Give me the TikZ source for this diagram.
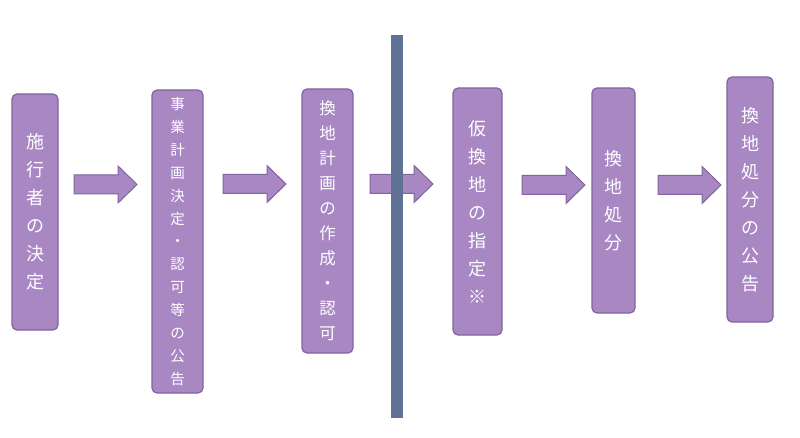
\documentclass[tikz,border=0pt]{standalone}
\usepackage{fontspec}
\setmainfont{Noto Sans CJK JP}
\definecolor{boxfill}{HTML}{A887C3}
\definecolor{boxline}{HTML}{7F64A0}
\definecolor{barcol}{HTML}{5F7194}
\tikzset{
  box/.style={draw=boxline, fill=boxfill, rounded corners=5pt, line width=1.2pt,
    text=white, align=center, inner sep=0pt},
  bigtext/.style={font=\fontsize{18}{28}\selectfont},
  midtext/.style={font=\fontsize{16.5}{25}\selectfont},
  smalltext/.style={font=\fontsize{14.5}{22.9}\selectfont},
  arrowstyle/.style={draw=boxline, fill=boxfill, line width=1pt, line join=miter},
  barrow/.pic={\draw[arrowstyle] (0,-9.5) -- (44,-9.5) -- (44,-18.5) -- (63,0) -- (44,18.5) -- (44,9.5) -- (0,9.5) -- cycle;},
  divider/.style={fill=barcol, draw=none, inner sep=0pt, minimum width=12pt, minimum height=383pt}
}
\begin{document}
\begin{tikzpicture}[x=1pt,y=-1pt]
\useasboundingbox (0,0) rectangle (800,438);
\node[box, bigtext, minimum width=46pt, minimum height=236pt] (b1) at (35,212)
  {施\\行\\者\\の\\決\\定};
\node[box, smalltext, minimum width=51pt, minimum height=303pt] (b2) at (177.5,241.5)
  {事\\業\\計\\画\\決\\定\\・\\認\\可\\等\\の\\公\\告};
\node[box, midtext, minimum width=51pt, minimum height=264pt] (b3) at (327.5,221)
  {換\\地\\計\\画\\の\\作\\成\\・\\認\\可};
\node[box, bigtext, minimum width=49pt, minimum height=247pt] (b4) at (477.5,211.5)
  {仮\\換\\地\\の\\指\\定\\※};
\node[box, bigtext, minimum width=43pt, minimum height=225pt] (b5) at (613.5,200.5)
  {換\\地\\処\\分};
\node[box, bigtext, minimum width=46pt, minimum height=245pt] (b6) at (750,199.5)
  {換\\地\\処\\分\\の\\公\\告};
\pic at (74,184.5) {barrow};
\pic at (223,184) {barrow};
\pic at (370,184) {barrow};
\pic at (522,185) {barrow};
\pic at (658,185) {barrow};
\node[divider] (bar) at (397,226.5) {};
\end{tikzpicture}
\end{document}
